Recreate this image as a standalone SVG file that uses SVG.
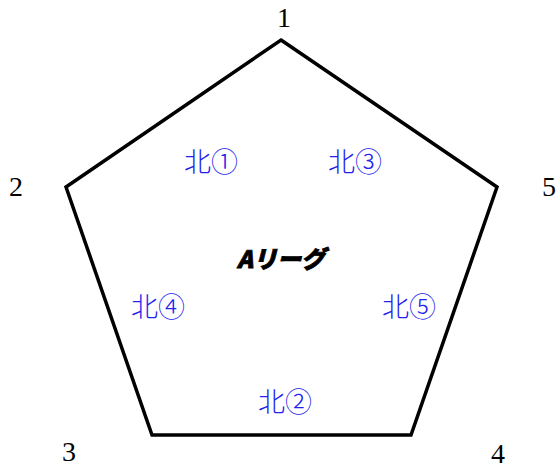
<svg xmlns="http://www.w3.org/2000/svg" width="556" height="468" viewBox="0 0 556 468">
<style>
.num{font-family:"Liberation Serif","Noto Serif CJK JP",serif;font-size:28px;fill:#000;text-anchor:middle}
.lbl{font-family:"Noto Sans CJK JP",sans-serif;font-size:27px;font-weight:300;fill:#2222ee;text-anchor:middle}
.title{font-family:"Noto Sans CJK JP","Liberation Sans",sans-serif;font-size:24px;font-weight:900;font-style:italic;fill:#000;stroke:#000;stroke-width:0.8;text-anchor:middle}
</style>
<rect width="556" height="468" fill="#fff"/>
<g id="connectors">
<polygon points="281,40 497,187 411,435 152,435 66,187" fill="none" stroke="#000" stroke-width="3.5" stroke-linejoin="miter"/>
</g>
<g id="v1"><text class="num" x="284" y="27">1</text></g>
<g id="v2"><text class="num" x="16" y="196">2</text></g>
<g id="v3"><text class="num" x="69" y="461">3</text></g>
<g id="v4"><text class="num" x="498" y="463">4</text></g>
<g id="v5"><text class="num" x="549" y="196">5</text></g>
<g id="n1"><text class="lbl" x="211" y="172">北①</text></g>
<g id="n3"><text class="lbl" x="355" y="172">北③</text></g>
<g id="n4"><text class="lbl" x="158" y="317">北④</text></g>
<g id="n5"><text class="lbl" x="409" y="317">北⑤</text></g>
<g id="n2"><text class="lbl" x="285" y="412">北②</text></g>
<g id="center"><text class="title" x="281" y="268">Aリーグ</text></g>
</svg>
